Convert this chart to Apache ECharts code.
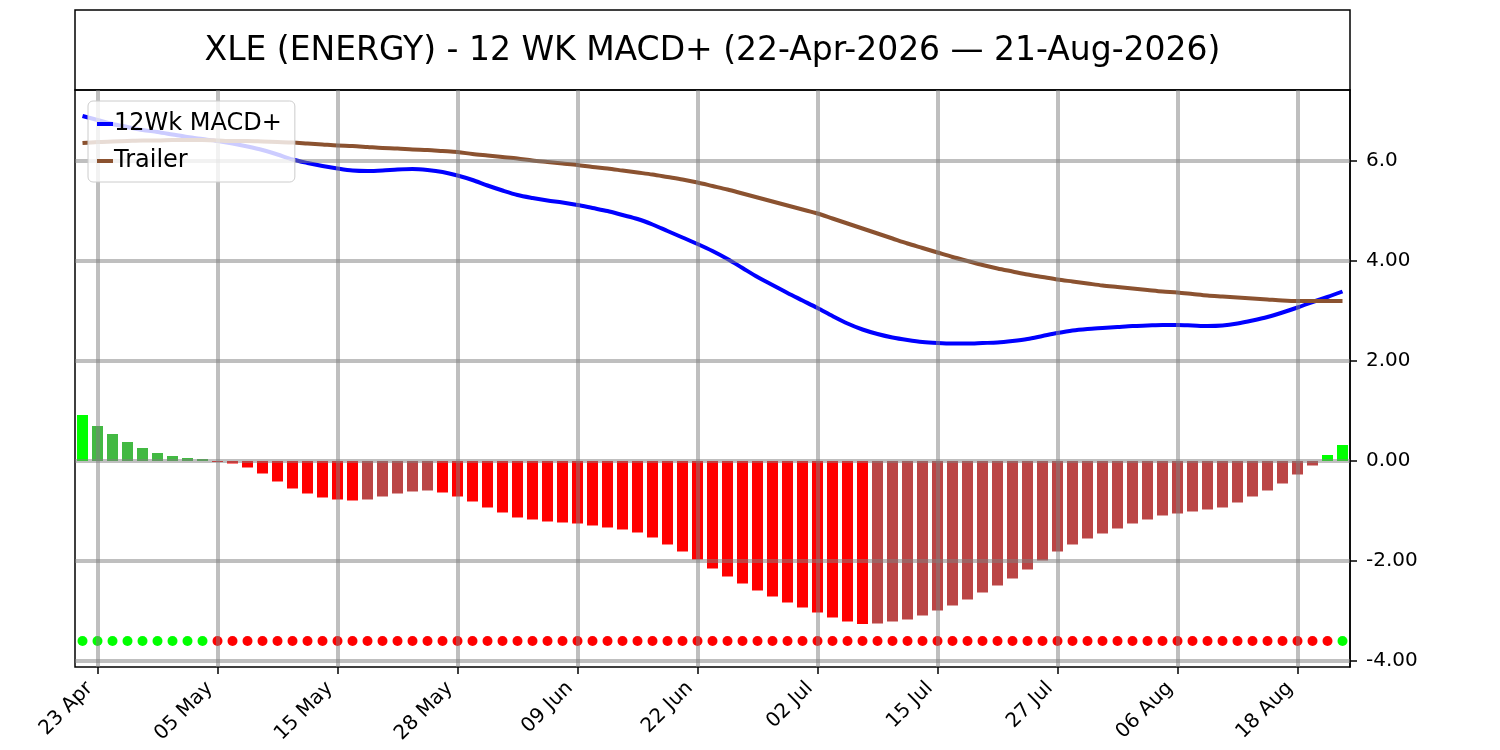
<!DOCTYPE html>
<html>
<head>
<meta charset="utf-8">
<script src="https://cdn.jsdelivr.net/npm/echarts@6/dist/echarts.min.js"></script>
<style>
html,body{margin:0;padding:0;background:#fff;}
#chart{width:1500px;height:750px;}
</style>
</head>
<body>
<div id="chart"></div>
<script>
const titleText = 'XLE (ENERGY) - 12 WK MACD+ (22-Apr-2026 \u2014 21-Aug-2026)';

const dates = ['22 Apr','23 Apr','24 Apr','27 Apr','28 Apr','29 Apr','30 Apr',
'01 May','04 May','05 May','06 May','07 May','08 May','11 May','12 May','13 May','14 May','15 May','18 May','19 May','20 May','21 May','22 May','26 May','27 May','28 May','29 May',
'01 Jun','02 Jun','03 Jun','04 Jun','05 Jun','08 Jun','09 Jun','10 Jun','11 Jun','12 Jun','15 Jun','16 Jun','17 Jun','18 Jun','22 Jun','23 Jun','24 Jun','25 Jun','26 Jun','29 Jun','30 Jun',
'01 Jul','02 Jul','06 Jul','07 Jul','08 Jul','09 Jul','10 Jul','13 Jul','14 Jul','15 Jul','16 Jul','17 Jul','20 Jul','21 Jul','22 Jul','23 Jul','24 Jul','27 Jul','28 Jul','29 Jul','30 Jul','31 Jul',
'03 Aug','04 Aug','05 Aug','06 Aug','07 Aug','10 Aug','11 Aug','12 Aug','13 Aug','14 Aug','17 Aug','18 Aug','19 Aug','20 Aug','21 Aug'];

const xTickLabels = ['23 Apr','05 May','15 May','28 May','09 Jun','22 Jun','02 Jul','15 Jul','27 Jul','06 Aug','18 Aug'];

const yTicks = [-4, -2, 0, 2, 4, 6];
const yTickText = ['-4.00', '-2.00', '0.00', '2.00', '4.00', '6.0'];

const macdPlus = [6.90,6.82,6.74,6.68,6.62,6.58,6.53,6.48,6.44,6.40,
6.35,6.29,6.22,6.13,6.03,5.96,5.90,5.85,5.81,5.80,
5.81,5.83,5.84,5.82,5.78,5.71,5.62,5.51,5.41,5.32,
5.26,5.21,5.17,5.12,5.06,5.00,4.92,4.84,4.73,4.60,
4.47,4.34,4.20,4.04,3.86,3.68,3.52,3.36,3.21,3.06,
2.90,2.75,2.63,2.54,2.47,2.42,2.38,2.36,2.35,2.35,
2.36,2.37,2.40,2.44,2.50,2.56,2.61,2.64,2.66,2.68,
2.70,2.71,2.72,2.72,2.71,2.70,2.71,2.75,2.81,2.88,
2.97,3.07,3.18,3.28,3.39];

const trailer = [6.36,6.38,6.39,6.40,6.41,6.41,6.42,6.42,6.42,6.41,
6.40,6.40,6.39,6.38,6.37,6.35,6.33,6.31,6.30,6.28,
6.26,6.25,6.23,6.22,6.20,6.18,6.14,6.11,6.08,6.05,
6.01,5.98,5.95,5.92,5.88,5.85,5.81,5.77,5.73,5.68,
5.63,5.57,5.50,5.43,5.35,5.27,5.19,5.11,5.03,4.95,
4.85,4.75,4.65,4.55,4.45,4.35,4.26,4.17,4.08,4.00,
3.92,3.85,3.79,3.73,3.68,3.63,3.59,3.55,3.51,3.48,
3.45,3.42,3.39,3.37,3.34,3.31,3.29,3.27,3.25,3.23,
3.21,3.20,3.20,3.20,3.20];

const histogram = [0.92,0.70,0.54,0.38,0.26,0.16,0.10,0.06,0.04,
-0.02,-0.05,-0.13,-0.25,-0.41,-0.55,-0.65,-0.73,-0.77,-0.79,
-0.77,-0.71,-0.65,-0.61,-0.59,
-0.63,-0.71,-0.81,-0.93,-1.03,-1.13,-1.17,-1.21,-1.23,-1.25,
-1.29,-1.33,-1.37,-1.43,-1.53,-1.67,-1.81,-1.97,-2.15,-2.31,
-2.45,-2.59,-2.71,-2.83,-2.93,-3.03,-3.13,-3.21,-3.26,
-3.25,-3.21,-3.17,-3.09,-2.99,-2.89,-2.77,-2.63,-2.49,-2.35,-2.17,-1.99,
-1.81,-1.67,-1.55,-1.45,-1.35,-1.25,-1.17,-1.09,-1.05,-1.01,-0.97,-0.93,-0.83,-0.71,-0.59,-0.45,-0.27,-0.09,
0.12,0.32];

// signal dots: G = green, R = red
const signals = 'GGGGGGGGGRRRRRRRRRRRRRRRRRRRRRRRRRRRRRRRRRRRRRRRRRRRRRRRRRRRRRRRRRRRRRRRRRRRRRRRRRRRGG'.split('');
const signalLevel = -3.6;

const C_UP_STRONG = '#00ff00', C_UP_WEAK = '#43b943', C_DN_STRONG = '#ff0000', C_DN_WEAK = '#bb4545';

function barColor(i) {
  const v = histogram[i];
  const p = i > 0 ? histogram[i - 1] : null;
  if (v >= 0) return (p === null || v >= p) ? C_UP_STRONG : C_UP_WEAK;
  return (p === null || v < p) ? C_DN_STRONG : C_DN_WEAK;
}

const chart = echarts.init(document.getElementById('chart'), null, {renderer: 'canvas'});
const isTick = (idx, val) => xTickLabels.indexOf(dates[idx]) >= 0;

const option = {
  animation: false,
  textStyle: {fontFamily: 'DejaVu Sans'},
  title: {
    text: titleText,
    left: 712.5,
    top: 31,
    textAlign: 'center',
    padding: 0,
    textStyle: {fontSize: 33, fontWeight: 'normal', color: '#000', fontFamily: 'DejaVu Sans', lineHeight: 40}
  },
  graphic: [{
    type: 'rect',
    shape: {x: 75, y: 10, width: 1275, height: 80},
    style: {fill: 'none', stroke: '#000', lineWidth: 1.5},
    silent: true
  }],
  legend: {
    data: ['12Wk MACD+', 'Trailer'],
    orient: 'vertical',
    left: 88,
    top: 101,
    padding: [9, 13, 7, 9],
    itemGap: 9,
    itemWidth: 16,
    itemHeight: 4,
    icon: 'rect',
    backgroundColor: 'rgba(255,255,255,0.8)',
    borderColor: '#cccccc',
    borderWidth: 1,
    borderRadius: 5,
    textStyle: {fontSize: 24, color: '#000', fontFamily: 'DejaVu Sans', lineHeight: 28, padding: [0, 0, 0, -4]},
    z: 10
  },
  grid: {
    left: 75, right: 150, top: 90, bottom: 83,
    show: true, borderColor: '#000', borderWidth: 1.5, backgroundColor: 'transparent'
  },
  xAxis: {
    type: 'category',
    data: dates,
    boundaryGap: true,
    axisLine: {show: false, onZero: false},
    axisTick: {show: true, alignWithLabel: true, interval: isTick, length: 7, lineStyle: {color: '#000', width: 1.5}},
    axisLabel: {interval: isTick, rotate: 45, align: 'right', verticalAlign: 'bottom', lineHeight: 22, fontSize: 20, color: '#000', margin: 26, fontFamily: 'DejaVu Sans'},
    splitLine: {show: false}
  },
  yAxis: {
    type: 'value',
    position: 'right',
    min: -4.12,
    max: 7.42,
    axisLine: {show: true, lineStyle: {color: '#000', width: 1.5}},
    axisTick: {show: true, length: 7, customValues: yTicks, lineStyle: {color: '#000', width: 1.5}},
    axisLabel: {
      customValues: yTicks,
      formatter: v => { const k = yTicks.indexOf(Math.round(v)); return k >= 0 ? yTickText[k] : ''; },
      fontSize: 20, color: '#000', margin: 16, fontFamily: 'DejaVu Sans'
    },
    splitLine: {show: false}
  },
  series: [
    {
      name: 'hist',
      type: 'bar',
      data: histogram.map((v, i) => ({value: v, itemStyle: {color: barColor(i)}})),
      barWidth: 11,
      z: 1,
      silent: true
    },
    {
      name: 'gridlines',
      type: 'line',
      data: [],
      z: 2,
      silent: true,
      markLine: {
        silent: true,
        symbol: ['none', 'none'],
        label: {show: false},
        animation: false,
        lineStyle: {color: 'rgba(128,128,128,0.5)', width: 4, type: 'solid'},
        emphasis: {disabled: true},
        data: yTicks.map(v => ({yAxis: v})).concat(xTickLabels.map(d => ({xAxis: d})))
      }
    },
    {
      name: '12Wk MACD+',
      type: 'line',
      data: macdPlus,
      showSymbol: false,
      smooth: 0.3,
      lineStyle: {color: '#0000ff', width: 4},
      itemStyle: {color: '#0000ff'},
      z: 3,
      silent: true
    },
    {
      name: 'Trailer',
      type: 'line',
      data: trailer,
      showSymbol: false,
      smooth: 0.3,
      lineStyle: {color: '#8b5230', width: 4},
      itemStyle: {color: '#8b5230'},
      z: 3,
      silent: true
    },
    {
      name: 'signal',
      type: 'scatter',
      data: signals.map(s => ({value: signalLevel, itemStyle: {color: s === 'G' ? '#00ff00' : '#ff0000', opacity: 1}})),
      symbolSize: 10,
      itemStyle: {opacity: 1},
      z: 4,
      silent: true
    }
  ]
};
chart.setOption(option);
</script>
</body>
</html>
